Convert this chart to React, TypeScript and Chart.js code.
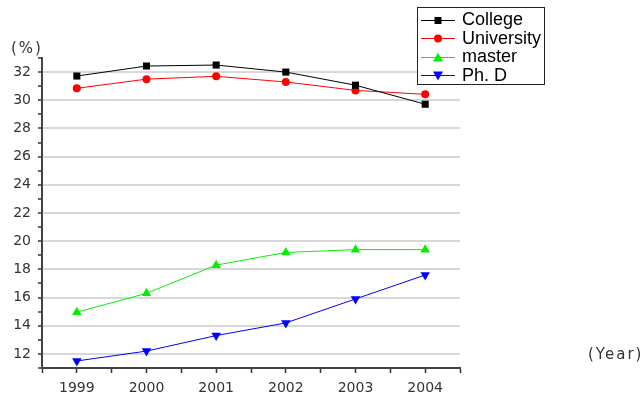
import React, { useEffect, useRef } from "react";
import { Chart, registerables } from "chart.js";

Chart.register(...registerables);

const years = [1999, 2000, 2001, 2002, 2003, 2004];
const college = [31.72, 32.43, 32.5, 32.0, 31.07, 29.72];
const university = [30.85, 31.5, 31.7, 31.3, 30.7, 30.42];
const master = [14.96, 16.3, 18.3, 19.2, 19.4, 19.4];
const phd = [11.5, 12.2, 13.3, 14.2, 15.9, 17.6];

const seriesNames = ["College", "University", "master", "Ph. D"];
const seriesColors = ["#000000", "#ff0000", "#00f000", "#0000ff"];
const yUnit = "(%)";
const xUnit = "(Year)";

const FONT = "'DejaVu Sans', sans-serif";

function drawMarker(ctx: CanvasRenderingContext2D, kind: number, x: number, y: number, color: string) {
  ctx.save();
  ctx.fillStyle = color;
  ctx.beginPath();
  if (kind === 0) {
    ctx.rect(x - 3.5, y - 3.5, 7, 7);
  } else if (kind === 1) {
    ctx.arc(x, y, 4, 0, Math.PI * 2);
  } else if (kind === 2) {
    ctx.moveTo(x, y - 5);
    ctx.lineTo(x + 5, y + 4);
    ctx.lineTo(x - 5, y + 4);
  } else {
    ctx.moveTo(x, y + 5);
    ctx.lineTo(x + 5, y - 4);
    ctx.lineTo(x - 5, y - 4);
  }
  ctx.closePath();
  ctx.fill();
  ctx.restore();
}

const extrasPlugin = {
  id: "extras",
  afterDraw(chart: any) {
    const ctx = chart.ctx as CanvasRenderingContext2D;
    ctx.save();
    // unit labels
    ctx.fillStyle = "#333";
    ctx.font = `15px ${FONT}`;
    (ctx as any).letterSpacing = "2px";
    ctx.textBaseline = "middle";
    ctx.textAlign = "left";
    const yScale = chart.scales.y;
    ctx.fillText(yUnit, 11, 49);
    ctx.fillText(xUnit, 588, yScale.getPixelForValue(12) + 1);
    (ctx as any).letterSpacing = "0px";

    // legend box
    const bx = 417.5, by = 7.5, bw = 127, bh = 77;
    ctx.fillStyle = "#fff";
    ctx.fillRect(bx, by, bw, bh);
    ctx.strokeStyle = "#222";
    ctx.lineWidth = 1;
    ctx.strokeRect(bx, by, bw, bh);
    const rows = [19.5, 38, 56.5, 75];
    ctx.font = `18px 'Liberation Sans', Arial, sans-serif`;
    for (let i = 0; i < seriesNames.length; i++) {
      const cy = rows[i];
      ctx.strokeStyle = seriesColors[i];
      ctx.lineWidth = 1;
      ctx.beginPath();
      ctx.moveTo(421, Math.round(cy) + 0.5);
      ctx.lineTo(455, Math.round(cy) + 0.5);
      ctx.stroke();
      drawMarker(ctx, i, 438, Math.round(cy) + 0.5, seriesColors[i]);
      ctx.fillStyle = "#000";
      ctx.textBaseline = "middle";
      ctx.fillText(seriesNames[i], 462, cy + 1);
    }
    ctx.restore();
  },
};

export default function App() {
  const ref = useRef<HTMLCanvasElement | null>(null);
  useEffect(() => {
    if (!ref.current) return;
    const all = [college, university, master, phd];
    const styles = ["rect", "circle", "triangle", "triangle"];
    const radii = [5, 4, 5.5, 5.5];
    const rotations = [0, 0, 0, 180];
    const chart = new Chart(ref.current, {
      type: "line",
      data: {
        datasets: all.map((vals, i) => ({
          label: seriesNames[i],
          data: years.map((x, j) => ({ x, y: vals[j] })),
          borderColor: seriesColors[i],
          backgroundColor: seriesColors[i],
          borderWidth: 1,
          pointStyle: styles[i] as any,
          pointRadius: radii[i],
          pointRotation: rotations[i],
          pointBorderWidth: 0,
          tension: 0,
        })),
      },
      options: {
        responsive: false,
        animation: false,
        layout: { padding: { top: 58, right: 184, left: 0, bottom: 0 } },
        plugins: { legend: { display: false }, tooltip: { enabled: false } },
        scales: {
          x: {
            type: "linear",
            min: 1998.5,
            max: 2004.5,
            afterFit: (s: any) => {
              s.height = 33;
            },
            border: { display: true, color: "#444", width: 2 },
            grid: { drawOnChartArea: false, tickLength: 5, tickColor: "#333", tickWidth: 1.5 },
            ticks: {
              stepSize: 0.5,
              autoSkip: false,
              maxRotation: 0,
              padding: 7,
              color: "#333",
              font: { family: FONT, size: 14 },
              callback: (v: any) => (Number.isInteger(v) ? String(v) : ""),
            },
          },
          y: {
            min: 11,
            max: 33,
            afterFit: (s: any) => {
              s.width = 42;
            },
            border: { display: true, color: "#444", width: 2 },
            grid: {
              lineWidth: 2,
              color: (c: any) => (c.tick && c.tick.value % 2 === 0 ? "#d8d8d8" : "rgba(0,0,0,0)"),
              tickLength: 4,
              tickColor: "#333",
              tickWidth: 1.5,
            },
            ticks: {
              stepSize: 1,
              autoSkip: false,
              padding: 7,
              color: "#333",
              font: { family: FONT, size: 14 },
              callback: (v: any) => (v % 2 === 0 ? String(v) : ""),
            },
          },
        },
      },
      plugins: [extrasPlugin],
    });
    return () => chart.destroy();
  }, []);
  return (
    <div style={{ position: "absolute", left: 0, top: 0, width: 644, height: 401, background: "#fff" }}>
      <canvas ref={ref} width={644} height={401} />
    </div>
  );
}
